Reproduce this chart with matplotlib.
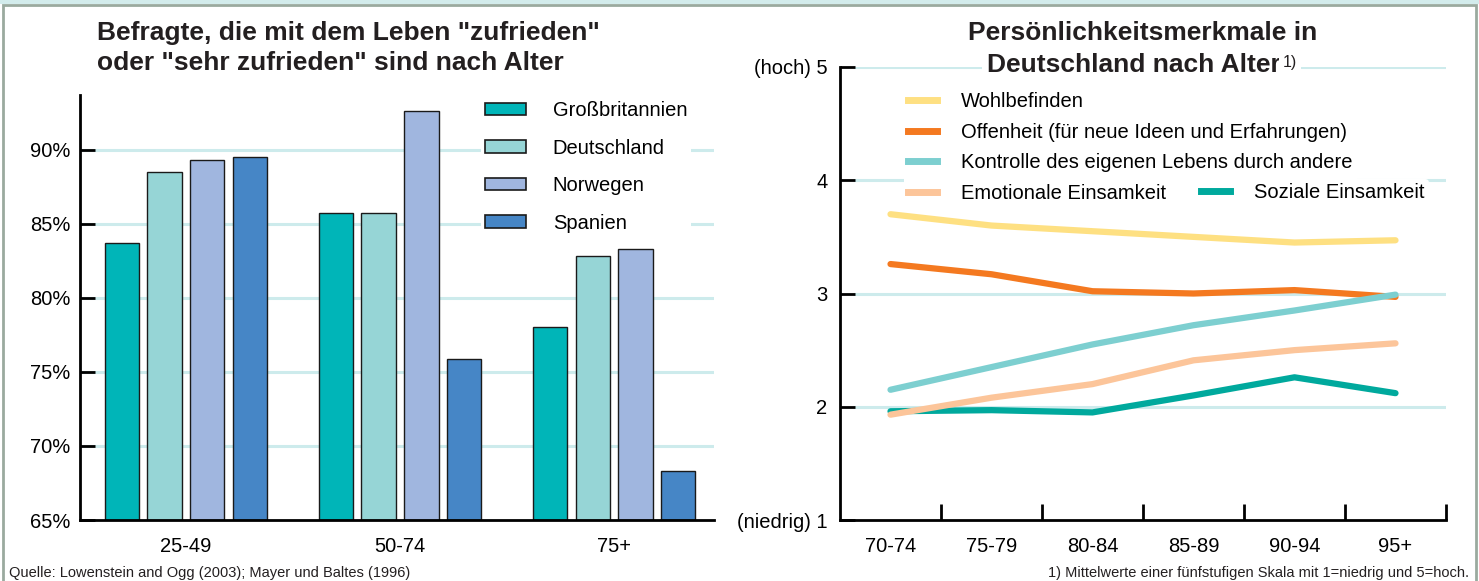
import matplotlib
matplotlib.use('Agg')
import matplotlib.pyplot as plt
import matplotlib.patches as mpatches
from matplotlib.lines import Line2D
import numpy as np

plt.rcParams['font.family'] = ['Liberation Sans', 'DejaVu Sans']

# ── Data: left panel ─────────────────────────────────────────
age_groups = ['25-49', '50-74', '75+']
countries = ['Großbritannien', 'Deutschland', 'Norwegen', 'Spanien']
satisfied = {
    'Großbritannien': [83.7, 85.7, 78.0],
    'Deutschland':    [88.5, 85.7, 82.8],
    'Norwegen':       [89.3, 92.6, 83.3],
    'Spanien':        [89.5, 75.9, 68.3],
}
bar_colors = ['#00B5B8', '#96D5D6', '#A0B6DF', '#4686C6']
pct_ticks = [65, 70, 75, 80, 85, 90]

# ── Data: right panel ────────────────────────────────────────
old_ages = ['70-74', '75-79', '80-84', '85-89', '90-94', '95+']
wohlbefinden = [3.70, 3.60, 3.55, 3.50, 3.45, 3.47]
offenheit    = [3.26, 3.17, 3.02, 3.00, 3.03, 2.97]
kontrolle    = [2.15, 2.35, 2.55, 2.72, 2.85, 2.99]
emotional    = [1.93, 2.08, 2.20, 2.41, 2.50, 2.56]
sozial       = [1.96, 1.97, 1.95, 2.10, 2.26, 2.12]
scale_labels = ['(niedrig) 1', '2', '3', '4', '(hoch) 5']

GRID = '#CDEBEC'
TXT = '#231f20'

fig = plt.figure(figsize=(14.79, 5.81), dpi=100, facecolor='white')

# outer frame
fig.patches.append(mpatches.Rectangle((0, 1 - 4/581), 1, 4/581, transform=fig.transFigure,
                                      facecolor='#D3ECEC', edgecolor='none', zorder=0))
fig.patches.append(mpatches.Rectangle((3/1479, -0.05), 1 - 6/1479, 1.05 - 5/581,
                                      transform=fig.transFigure, facecolor='none',
                                      edgecolor='#9AAA9F', linewidth=2, zorder=1))

# ── Left panel: grouped bars ─────────────────────────────────
ax1 = fig.add_axes([80/1479, 61/581, 634/1479, 425/581])
x = np.arange(len(age_groups))
step, width = 0.2, 0.16
for i, c in enumerate(countries):
    vals = np.array(satisfied[c])
    ax1.bar(x + (i - 1.5) * step, vals - 65, bottom=65, width=width,
            color=bar_colors[i], edgecolor='#1a1a1a', linewidth=1.0, zorder=3, label=c)
ax1.set_ylim(65, 93.7)
ax1.set_xlim(-0.495, 2.467)
ax1.set_yticks(pct_ticks)
ax1.set_yticklabels([f'{v}%' for v in pct_ticks], fontsize=14.5)
ax1.set_xticks(x)
ax1.set_xticklabels(age_groups, fontsize=14.5)
ax1.tick_params(axis='x', length=0, pad=12)
ax1.tick_params(axis='y', direction='in', length=11, width=2, pad=7)
for yv in pct_ticks[1:]:
    ax1.axhline(yv, color=GRID, linewidth=2.2, zorder=1)
for s in ['top', 'right']:
    ax1.spines[s].set_visible(False)
for s in ['left', 'bottom']:
    ax1.spines[s].set_linewidth(2)
    ax1.spines[s].set_zorder(5)
leg1 = ax1.legend(loc='upper left', bbox_to_anchor=(0.617, 1.019), fontsize=14.5,
                  frameon=True, facecolor='white', edgecolor='none', framealpha=1,
                  handlelength=2.0, handleheight=0.6, labelspacing=0.92,
                  handletextpad=1.35, borderpad=0.2)
leg1.set_zorder(4)
for h in leg1.legend_handles:
    h.set_linewidth(1.2)

fig.text(97/1479, 1 - 21/581, 'Befragte, die mit dem Leben "zufrieden"\noder "sehr zufrieden" sind nach Alter',
         fontsize=19, fontweight='bold', color=TXT, ha='left', va='top', linespacing=1.33)

# ── Right panel: lines ───────────────────────────────────────
ax2 = fig.add_axes([840/1479, 61/581, 606/1479, 453/581])
xr = np.arange(len(old_ages))
series = [
    (wohlbefinden, '#FEE082', 'Wohlbefinden'),
    (offenheit, '#F47920', 'Offenheit (für neue Ideen und Erfahrungen)'),
    (kontrolle, '#7DCFD0', 'Kontrolle des eigenen Lebens durch andere'),
    (emotional, '#FCC59A', 'Emotionale Einsamkeit'),
    (sozial, '#00A99D', 'Soziale Einsamkeit'),
]
order = [0, 1, 2, 4, 3]
for k in order:
    vals, col, lab = series[k]
    ax2.plot(xr, vals, color=col, linewidth=4.5, solid_capstyle='round', zorder=3)
ax2.set_xlim(-0.5, 5.5)
ax2.set_ylim(1, 5)
ax2.set_yticks([1, 2, 3, 4, 5])
ax2.set_yticklabels(scale_labels, fontsize=14.5)
ax2.set_xticks(xr)
ax2.set_xticklabels(old_ages, fontsize=14.5)
ax2.set_xticks(xr + 0.5, minor=True)
ax2.tick_params(axis='x', which='major', length=0, pad=12)
ax2.tick_params(axis='x', which='minor', direction='in', length=11.5, width=2)
ax2.tick_params(axis='y', direction='in', length=11, width=2, pad=9)
for yv in [2, 3, 4, 5]:
    ax2.axhline(yv, xmin=0.025, color=GRID, linewidth=2.2, zorder=1)
for s in ['top', 'right']:
    ax2.spines[s].set_visible(False)
for s in ['left', 'bottom']:
    ax2.spines[s].set_linewidth(2)
    ax2.spines[s].set_zorder(5)

h_main = [Line2D([0], [0], color=series[k][1], linewidth=5) for k in range(4)]
leg2 = ax2.legend(h_main, [series[k][2] for k in range(4)], loc='upper left',
                  bbox_to_anchor=(0.089, 0.975), fontsize=14.5, frameon=True,
                  facecolor='white', edgecolor='none', framealpha=1,
                  handlelength=1.45, labelspacing=0.565, handletextpad=1.2, borderpad=0.2)
leg2.set_zorder(4)
ax2.add_artist(leg2)
leg3 = ax2.legend([Line2D([0], [0], color=series[4][1], linewidth=5)], [series[4][2]],
                  loc='upper left', bbox_to_anchor=(0.572, 0.775), fontsize=14.5,
                  frameon=True, facecolor='white', edgecolor='none', framealpha=1,
                  handlelength=1.45, handletextpad=1.2, borderpad=0.2)
leg3.set_zorder(4)

fig.text(1143/1479, 1 - 21/581, 'Persönlichkeitsmerkmale in', fontsize=19, fontweight='bold',
         color=TXT, ha='center', va='top')
t2 = fig.text(1134/1479, 1 - 53/581, 'Deutschland nach Alter', fontsize=19, fontweight='bold',
              color=TXT, ha='center', va='top', zorder=6,
              bbox=dict(facecolor='white', edgecolor='none', pad=4))
fig.canvas.draw()
bb = t2.get_window_extent()
fig.text((bb.x1 + 2) / 1479, bb.y1 / 581 - 2/581, '1)', fontsize=11.5, color=TXT,
         ha='left', va='top', zorder=7,
         bbox=dict(facecolor='white', edgecolor='none', pad=3))

# ── Footnotes ────────────────────────────────────────────────
fig.text(9/1479, 1 - 573/581, 'Quelle: Lowenstein and Ogg (2003); Mayer und Baltes (1996)',
         fontsize=10.5, color=TXT, ha='left', va='center')
fig.text(1469/1479, 1 - 573/581, '1) Mittelwerte einer fünfstufigen Skala mit 1=niedrig und 5=hoch.',
         fontsize=10.5, color=TXT, ha='right', va='center')

fig.savefig('out.png', dpi=100, facecolor='white')
